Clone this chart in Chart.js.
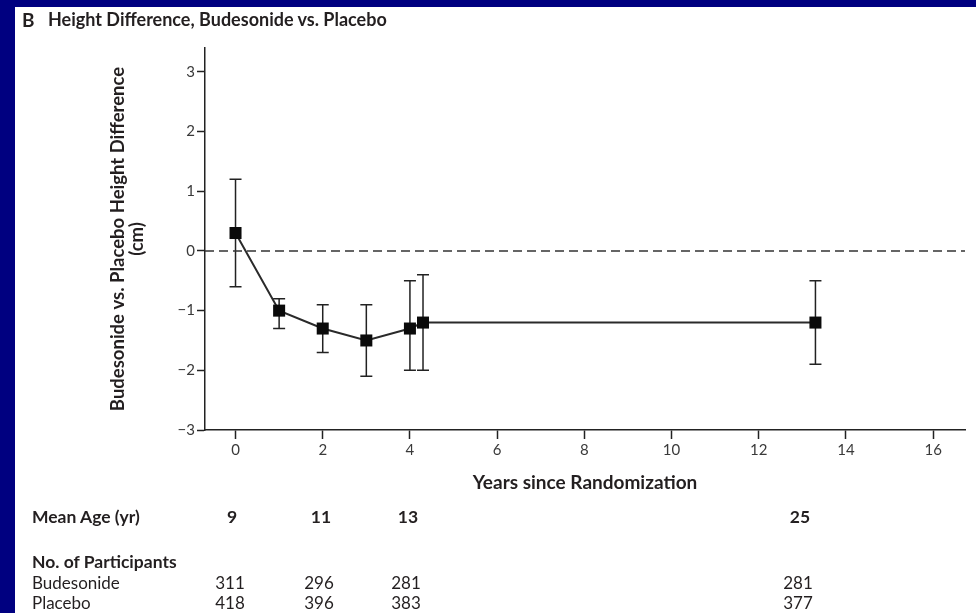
<!DOCTYPE html>
<html>
<head>
<meta charset="utf-8">
<script src="https://cdn.jsdelivr.net/npm/chart.js@4.4.1/dist/chart.umd.min.js"></script>
<style>
  html, body { margin: 0; padding: 0; }
  body { width: 976px; height: 613px; background: #000080; position: relative; overflow: hidden; font-family: Lato, 'Open Sans', sans-serif; color: #231f20; }
  #panel { position: absolute; left: 15px; top: 7px; right: 0; bottom: 0; background: #fff; }
  #myChart { position: absolute; left: 0; top: 0; }
  .t { position: absolute; white-space: nowrap; line-height: 1; }
  .b { font-weight: bold; }
  .c { transform: translateX(-50%); }
</style>
</head>
<body>
<div id="panel"></div>
<canvas id="myChart" width="976" height="613"></canvas>
<div class="t b" style="left:22px; top:10px; font-size:19px;">B</div>
<div class="t b" style="left:48px; top:10px; font-size:18px;">Height Difference, Budesonide vs. Placebo</div>
<div id="table"></div>
<script>
// values
const years = [0, 1, 2, 3, 4, 4.3, 13.3];
const heightDiff = [0.3, -1.0, -1.3, -1.5, -1.3, -1.2, -1.2];
const ciUpper = [1.2, -0.8, -0.9, -0.9, -0.5, -0.4, -0.5];
const ciLower = [-0.6, -1.3, -1.7, -2.1, -2.0, -2.0, -1.9];

const xTicks = [0, 2, 4, 6, 8, 10, 12, 14, 16];
const yTicks = [-3, -2, -1, 0, 1, 2, 3];

const meanAge = ['9', '11', '13', '25'];
const budesonideN = ['311', '296', '281', '281'];
const placeboN = ['418', '396', '383', '377'];
const tableCols = [232, 321, 408, 800];

// table under the chart
const table = document.getElementById('table');
function addText(txt, left, top, size, cls) {
    const d = document.createElement('div');
    d.className = 't ' + (cls || '');
    d.style.left = left + 'px';
    d.style.top = top + 'px';
    d.style.fontSize = size + 'px';
    d.textContent = txt;
    table.appendChild(d);
}
addText('Mean Age (yr)', 32, 508, 17.5, 'b');
addText('No. of Participants', 32, 553, 17.5, 'b');
addText('Budesonide', 32, 574, 17);
addText('Placebo', 32, 594, 17);
meanAge.forEach(function (v, i) { addText(v, tableCols[i], 508, 17.5, 'b c'); });
budesonideN.forEach(function (v, i) { addText(v, tableCols[i] - 2, 574, 17, 'c'); });
placeboN.forEach(function (v, i) { addText(v, tableCols[i] - 2, 594, 17, 'c'); });

const xMin = -0.7, xMax = 16.73;

const errorBars = {
    id: 'errorBars',
    beforeDatasetsDraw(chart) {
        const ctx = chart.ctx;
        const x = chart.scales.x, y = chart.scales.y;
        ctx.save();
        ctx.strokeStyle = '#222';
        ctx.lineWidth = 1.5;
        years.forEach(function (yr, i) {
            const px = x.getPixelForValue(yr);
            const top = y.getPixelForValue(ciUpper[i]);
            const bot = y.getPixelForValue(ciLower[i]);
            ctx.beginPath();
            ctx.moveTo(px, top); ctx.lineTo(px, bot);
            ctx.moveTo(px - 6, top); ctx.lineTo(px + 6, top);
            ctx.moveTo(px - 6, bot); ctx.lineTo(px + 6, bot);
            ctx.stroke();
        });
        ctx.restore();
    }
};

const tickFont = { family: 'Lato', size: 15 };

const config = {
    type: 'scatter',
    data: {
        datasets: [{
            label: 'zero',
            data: [{ x: xMin, y: 0 }, { x: xMax, y: 0 }],
            showLine: true,
            borderColor: '#333',
            borderWidth: 1.5,
            borderDash: [9, 5],
            pointRadius: 0
        }, {
            label: 'Height difference',
            data: years.map(function (yr, i) { return { x: yr, y: heightDiff[i] }; }),
            showLine: true,
            borderColor: '#2a2a2a',
            borderWidth: 2,
            pointStyle: 'rect',
            pointRadius: 8.5,
            pointBackgroundColor: '#0a0a0a',
            pointBorderColor: '#0a0a0a',
            pointBorderWidth: 0
        }]
    },
    options: {
        responsive: false,
        animation: false,
        layout: { padding: { top: 48, right: 11, left: 0, bottom: 0 } },
        plugins: { legend: { display: false }, tooltip: { enabled: false } },
        scales: {
            x: {
                type: 'linear',
                min: xMin,
                max: xMax,
                afterFit: function (scale) { scale.height = 183; },
                afterBuildTicks: function (scale) { scale.ticks = xTicks.map(function (v) { return { value: v }; }); },
                ticks: { font: tickFont, color: '#3a3a3a', padding: 2 },
                grid: { display: true, drawOnChartArea: false, drawTicks: true, tickLength: 9, tickColor: '#222', tickWidth: 1.5 },
                border: { display: true, color: '#222', width: 1.5 },
                title: {
                    display: true, text: 'Years since Randomization',
                    font: { family: 'Lato', size: 19, weight: 'bold', lineHeight: 1.2 },
                    color: '#231f20', padding: { top: 0, bottom: 118.6 }
                }
            },
            y: {
                min: -3,
                max: 3.4,
                afterFit: function (scale) { scale.width = 205; },
                afterBuildTicks: function (scale) { scale.ticks = yTicks.map(function (v) { return { value: v }; }); },
                ticks: {
                    font: tickFont, color: '#3a3a3a', padding: 2,
                    callback: function (v) { return v < 0 ? '\u2212' + Math.abs(v) : String(v); }
                },
                grid: { display: true, drawOnChartArea: false, drawTicks: true, tickLength: 8, tickColor: '#222', tickWidth: 1.5 },
                border: { display: true, color: '#222', width: 1.5 },
                title: {
                    display: true,
                    text: ['Budesonide vs. Placebo Height Difference', '(cm)'],
                    font: { family: 'Lato', size: 18.5, weight: 'bold', lineHeight: '19px' },
                    color: '#231f20',
                    padding: { top: 108.5, bottom: 0 }
                }
            }
        }
    },
    plugins: [errorBars]
};

new Chart(document.getElementById('myChart'), config);
</script>
</body>
</html>
